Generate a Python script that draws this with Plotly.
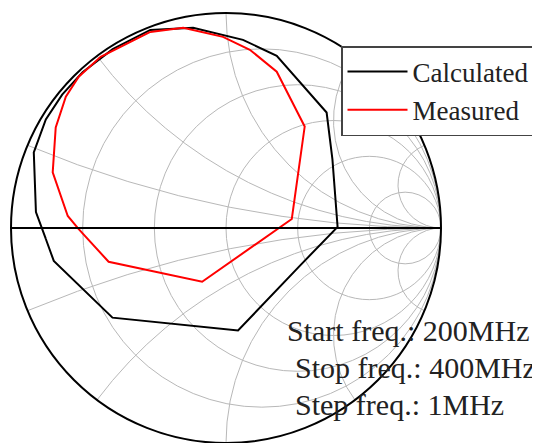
import numpy as np
import plotly.graph_objects as go

# Reflection coefficient (Gamma)
calc_re = [-0.838, -0.801, -0.528, 0.056, 0.343, 0.519, 0.495, 0.468, 0.236, 0.079, -0.153, -0.352, -0.527, -0.667, -0.762, -0.838, -0.894, -0.884, -0.838]
calc_im = [-0.051, -0.153, -0.417, -0.477, -0.176, 0.005, 0.319, 0.537, 0.801, 0.875, 0.931, 0.921, 0.832, 0.725, 0.620, 0.505, 0.352, 0.074, -0.051]

meas_re = [-0.352, -0.583, -0.685, -0.745, -0.792, -0.806, -0.736, -0.685, -0.546, -0.111, 0.306, 0.366, 0.236, 0.111, -0.014, -0.199, -0.352]
meas_im = [0.912, 0.796, 0.704, 0.611, 0.468, 0.259, 0.056, -0.005, -0.157, -0.250, 0.042, 0.472, 0.727, 0.829, 0.889, 0.931, 0.912]

grid_r = [0.2, 0.5, 1, 2, 5]
grid_x = [-5, -2, -1, -0.5, -0.2, 0.2, 0.5, 1, 2, 5]

notes = ["Start freq.: 200MHz", "Stop freq.: 400MHz", "Step freq.: 1MHz"]


def to_z(re, im):
    g = np.array(re) + 1j * np.array(im)
    z = (1 + g) / (1 - g)
    return z.real, z.imag


cz_r, cz_x = to_z(calc_re, calc_im)
mz_r, mz_x = to_z(meas_re, meas_im)

fig = go.Figure()
fig.add_trace(go.Scattersmith(real=cz_r, imag=cz_x, mode="lines", name="Calculated",
                              line=dict(color="black", width=2)))
fig.add_trace(go.Scattersmith(real=mz_r, imag=mz_x, mode="lines", name="Measured",
                              line=dict(color="#ff0000", width=2)))

# page has an 8px body margin: figure is sized to fit the window exactly
OFF = 8
W, H = 540 - OFF, 443 - OFF
L, T, B = 2, 5, 0
pw = 432
ph = H - T - B
R = W - L - pw


def px(x):
    return (x - OFF - L) / pw


def py(y):
    return (H - B - (y - OFF)) / ph


fig.update_layout(
    width=W, height=H,
    margin=dict(l=L, r=R, t=T, b=B, autoexpand=False),
    paper_bgcolor="white",
    font=dict(family="Liberation Serif", color="#222"),
    smith=dict(
        bgcolor="white",
        realaxis=dict(tickvals=grid_r, showticklabels=False, ticks="",
                      gridcolor="#b8b8b8", gridwidth=1,
                      showline=True, linecolor="black", linewidth=2),
        imaginaryaxis=dict(tickvals=grid_x, showticklabels=False, ticks="",
                           gridcolor="#b8b8b8", gridwidth=1,
                           showline=True, linecolor="black", linewidth=2),
    ),
    showlegend=True,
    legend=dict(x=px(341), y=py(46), xanchor="left", yanchor="top",
                bgcolor="white", bordercolor="#444", borderwidth=1.5,
                font=dict(family="Liberation Serif", size=27, color="#222"),
                itemwidth=60, tracegroupgap=0),
)

ys = [330, 367, 404]
xs = [285, 293, 293]
for t, x, y in zip(notes, xs, ys):
    fig.add_annotation(text=t, xref="paper", yref="paper", x=px(x), y=py(y),
                       xanchor="left", yanchor="middle", showarrow=False,
                       font=dict(family="Liberation Serif", size=30, color="#222"))

fig.write_html("out.html")
